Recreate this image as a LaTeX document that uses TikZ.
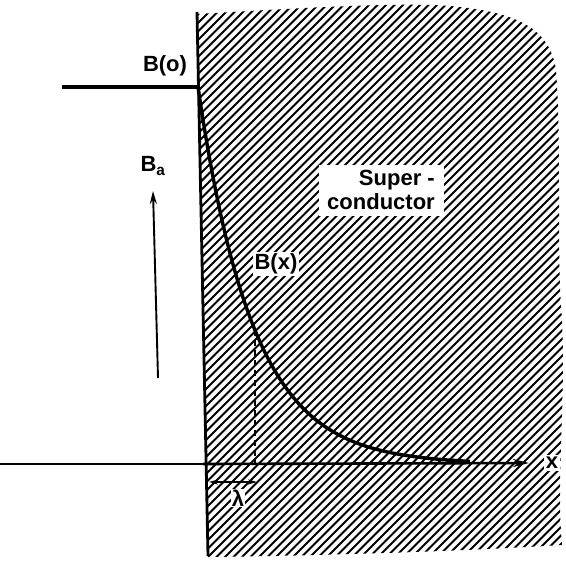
\documentclass[tikz,border=0pt]{standalone}
\usepackage{fontspec}
\setmainfont{Liberation Sans}
\usetikzlibrary{arrows.meta}
\begin{document}
\begin{tikzpicture}[x=1pt,y=-1pt,
  heavy/.style={line width=3.4pt},
  hatchline/.style={line width=2.1pt},
  lbl/.style={font=\fontsize{22}{24}\selectfont\bfseries, inner sep=2pt},
  whitelbl/.style={lbl, fill=white}]
\useasboundingbox (0,0) rectangle (566,563);
% hatched superconductor region
\begin{scope}
\clip (197,14) .. controls (300,8) and (400,2) .. (450,6)
  .. controls (520,12) and (550,30) .. (556,70)
  .. controls (562,150) and (556,250) .. (562,320)
  .. controls (566,400) and (556,480) .. (562,545)
  .. controls (450,552) and (300,556) .. (208,557) -- cycle;
\foreach \k in {-400,-391.5,...,570} \draw[hatchline] (\k,570) -- ++(570,-570);
\end{scope}
% labels with cleared background
\node[whitelbl, align=right, minimum width=125pt, minimum height=51pt] (sc) at (381,190) {Super -\\conductor};
\node[whitelbl] (bx) at (276,264) {B(x)};
\node[whitelbl, inner sep=1pt] (lam) at (238,498) {λ};
\node[whitelbl] (xl) at (552,463) {x};
\node[lbl] (b0lab) at (165,66) {B(o)};
\node[lbl] (balab) at (153,166) {B\textsubscript{a}};
% boundary
\coordinate (top) at (197,12);
\coordinate (bot) at (208,556);
\draw[line width=2.8pt] (top) -- (bot);
% applied field level
\coordinate (b0l) at (62,87);
\coordinate (b0) at (198,87);
\draw[heavy] (b0l) -- (b0);
% decay curve
\draw[heavy] plot[domain=198:470, samples=150] (\x,{464-377*exp(-(\x-198)/55)});
% axis
\coordinate (ax0) at (0,464);
\coordinate (axm) at (203,464);
\coordinate (ax1) at (529,463);
\draw[line width=1.3pt] (ax0) -- (axm);
\draw[line width=2.6pt, -{Stealth[length=16pt,width=8pt]}] (axm) -- (ax1);
% lambda marker
\coordinate (lamtop) at (255,330);
\coordinate (lambot) at (255,464);
\draw[line width=1.3pt, dash pattern=on 6pt off 4pt] (lamtop) -- (lambot);
\coordinate (l0) at (209,482);
\coordinate (l1) at (257,482);
\draw[line width=1.4pt, {Stealth[length=9pt,width=5pt]}-{Stealth[length=9pt,width=5pt]}] (l0) -- (l1);
% Ba arrow
\coordinate (ba0) at (158,378);
\coordinate (ba1) at (153,191);
\draw[line width=1.9pt, -{Stealth[length=13pt,width=7pt]}] (ba0) -- (ba1);
\end{tikzpicture}
\end{document}
